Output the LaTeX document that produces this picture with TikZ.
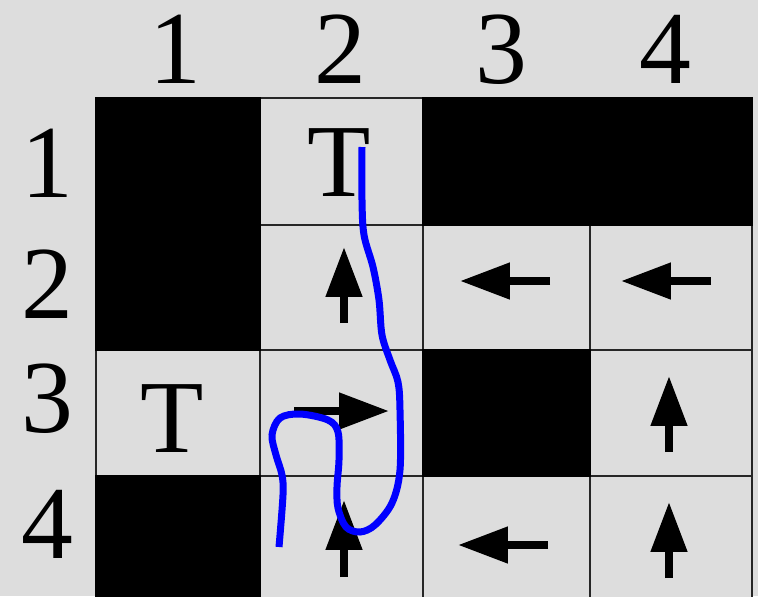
\documentclass[tikz,border=0pt]{standalone}
\usepackage{fontspec}
\setmainfont{Liberation Serif}
\usetikzlibrary{arrows.meta}
\definecolor{cellgray}{RGB}{221,221,221}
\definecolor{trailblue}{RGB}{0,0,255}

\begin{document}
\begin{tikzpicture}[
    x=0.02cm, y=-0.02cm,
    lbl/.style={font=\fontsize{59}{60}\selectfont, anchor=base, inner sep=0pt},
    gridcell/.style={fill=cellgray, draw=black!85, line width=0.04cm},
    wall/.style={fill=black, draw=black, line width=0.04cm},
    move/.style={line width=0.16cm, -{Triangle[length=1cm, width=0.7cm]}},
    trail/.style={trailblue, line width=0.14cm},
]
\useasboundingbox (0,0) rectangle (758,596);
\clip (0,0) rectangle (758,596);
\fill[cellgray] (0,0) rectangle (758,596);

% --- 4x4 grid (edges in px) ---
\def\colx{{96,260,423,590,752}}
\def\rowy{{98,225,350,476,602}}
\foreach \c in {1,...,4} {
    \foreach \r in {1,...,4} {
        \pgfmathsetmacro{\xa}{\colx[\c-1]}
        \pgfmathsetmacro{\xb}{\colx[\c]}
        \pgfmathsetmacro{\ya}{\rowy[\r-1]}
        \pgfmathsetmacro{\yb}{\rowy[\r]}
        \draw[gridcell] (\xa,\ya) rectangle (\xb,\yb);
    }
}

% --- blocked cells ---
\foreach \r/\c in {1/1, 1/3, 1/4, 2/1, 3/3, 4/1} {
    \pgfmathsetmacro{\xa}{\colx[\c-1]}
    \pgfmathsetmacro{\xb}{\colx[\c]}
    \pgfmathsetmacro{\ya}{\rowy[\r-1]}
    \pgfmathsetmacro{\yb}{\rowy[\r]}
    \draw[wall] (\xa,\ya) rectangle (\xb,\yb);
}

% --- column and row numbers ---
\foreach \i/\x in {1/175, 2/340, 3/501, 4/665}
    \node[lbl] (col\i) at (\x,83) {\i};
\foreach \i/\y in {1/197, 2/318, 3/432, 4/558}
    \node[lbl] (row\i) at (47,\y) {\i};

% --- terminal cells ---
\node[lbl] (term12) at (339,196) {T};
\node[lbl] (term31) at (172,452) {T};

% --- policy arrows: tail / tip ---
\foreach \xa/\ya/\xb/\yb in {
    344/323/344/247,  550/281/460/281,  711/281/621/281,
    294/411/389/411,  669/452/669/376,
    344/577/344/500,  548/545/458/545,  669/578/669/502} {
    \draw[move] (\xa,\ya) -- (\xb,\yb);
}

% --- sampled trajectory ---
\draw[trail] plot[smooth, tension=0.55] coordinates {
    (362,147) (362,200) (364,235) (373,267) (379,300) (382,335)
    (390,360) (398,382) (400,410) (400,470) (392,503) (375,525)
    (360,532) (346,527) (338,508) (337,487) (339,460) (338,432)
    (328,420) (300,414) (280,418) (272,435) (276,455) (282,475)
    (283,495) (279,547)};

\end{tikzpicture}
\end{document}
